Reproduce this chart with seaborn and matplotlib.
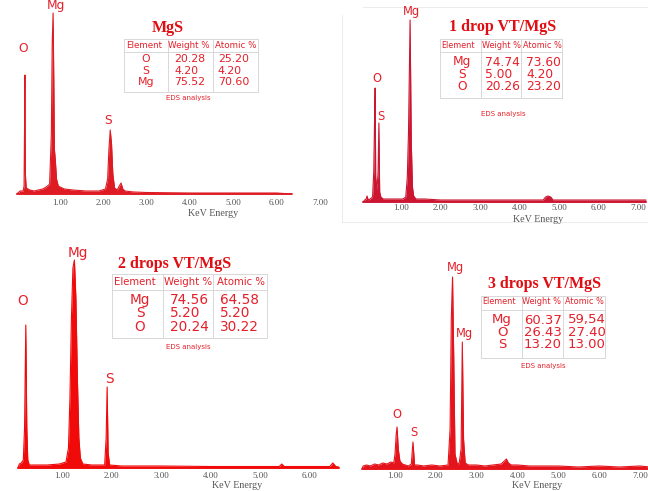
import matplotlib
matplotlib.use("Agg")
import matplotlib.pyplot as plt
from matplotlib.lines import Line2D
import pandas as pd
import seaborn as sns

# ---------------- spectra (energy in keV, intensity in counts) ----------------
mgs_energy = [0.00, 0.08, 0.15, 0.17, 0.180, 0.190, 0.20, 0.22, 0.30, 0.40, 0.50, 0.60,
              0.68, 0.74, 0.76, 0.78, 0.80, 0.82, 0.84, 0.86, 0.87, 0.89, 0.92, 0.96,
              1.00, 1.10, 1.30, 1.60, 1.90, 2.05, 2.10, 2.13, 2.16, 2.19, 2.22, 2.26,
              2.32, 2.37, 2.41, 2.45, 2.50, 2.70, 3.00, 4.00, 5.00, 6.00, 6.35]
mgs_counts = [0, 3, 3, 8, 60, 119, 20, 6, 4, 3, 4, 5,
              7, 9, 10, 35, 60, 150, 181, 100, 45, 35, 15, 8,
              7, 5, 4, 3, 3, 5, 15, 45, 64, 50, 20, 6,
              4, 8, 11, 5, 3, 2, 1.5, 1, 1, 1, 0]

drop1_energy = [0.04, 0.08, 0.12, 0.14, 0.17, 0.22, 0.28, 0.31, 0.33, 0.345, 0.36, 0.39,
                0.42, 0.44, 0.46, 0.49, 0.55, 0.70, 0.90, 1.05, 1.12, 1.16, 1.19, 1.23,
                1.26, 1.29, 1.32, 1.38, 1.60, 2.00, 3.00, 4.00, 4.60, 4.66, 4.72, 4.79,
                4.85, 5.50, 6.50, 7.20]
drop1_counts = [0, 2, 3, 6, 2, 3, 5, 30, 80, 114, 25, 12,
                30, 79, 10, 5, 3, 3, 3, 3, 5, 25, 70, 182,
                60, 15, 6, 3, 3, 2, 2, 2, 2, 5, 6, 5,
                2, 2, 2, 2]

drop2_energy = [0.11, 0.14, 0.18, 0.22, 0.245, 0.27, 0.29, 0.31, 0.34, 0.45, 0.70, 0.95,
                1.08, 1.13, 1.16, 1.19, 1.22, 1.25, 1.28, 1.31, 1.34, 1.37, 1.42, 1.60,
                1.86, 1.89, 1.91, 1.93, 1.96, 2.20, 3.00, 4.00, 5.00, 5.38, 5.43, 5.48,
                6.00, 6.40, 6.46, 6.52, 6.58]
drop2_counts = [0, 4, 5, 8, 40, 143, 40, 8, 3, 3, 3, 4,
                6, 20, 70, 150, 200, 208, 170, 90, 30, 10, 4, 3,
                3, 30, 81, 15, 3, 2, 2, 1.5, 1.5, 1.5, 4, 1.5,
                1.5, 1.5, 5, 1.5, 1]

drop3_energy = [0.19, 0.22, 0.30, 0.40, 0.50, 0.60, 0.70, 0.80, 0.90, 0.97, 1.00, 1.03,
                1.05, 1.08, 1.12, 1.18, 1.25, 1.33, 1.40, 1.44, 1.48, 1.55, 1.70, 1.90,
                2.10, 2.30, 2.35, 2.38, 2.41, 2.44, 2.47, 2.52, 2.57, 2.62, 2.65, 2.68,
                2.72, 2.80, 3.00, 3.20, 3.40, 3.60, 3.68, 3.73, 3.78, 3.85, 4.00, 4.30,
                4.60, 5.00, 5.50, 6.00, 6.50, 7.00, 7.25]
drop3_counts = [0, 3, 4, 3, 5, 4, 6, 5, 7, 6, 15, 35,
                42, 20, 8, 5, 4, 3, 5, 27, 4, 4, 3, 4,
                3, 4, 40, 150, 192, 110, 15, 6, 5, 20, 127, 30,
                6, 4, 4, 3, 4, 5, 8, 10, 6, 4, 4, 3,
                3, 3, 2, 3, 2, 3, 2]

# ---------------- EDS composition tables ----------------
table_headers = ["Element", "Weight %", "Atomic %"]

mgs_elements = ["O", "S", "Mg"]
mgs_weight = [20.28, 4.20, 75.52]
mgs_atomic = [25.20, 4.20, 70.60]

drop1_elements = ["Mg", "S", "O"]
drop1_weight = [74.74, 5.00, 20.26]
drop1_atomic = [73.60, 4.20, 23.20]

drop2_elements = ["Mg", "S", "O"]
drop2_weight = [74.56, 5.20, 20.24]
drop2_atomic = [64.58, 5.20, 30.22]

drop3_elements = ["Mg", "O", "S"]
drop3_weight = [60.37, 26.43, 13.20]
drop3_atomic_text = ["59,54", "27.40", "13.00"]

energy_ticks_7 = [1, 2, 3, 4, 5, 6, 7]
energy_ticks_6 = [1, 2, 3, 4, 5, 6]

# ---------------- figure helpers ----------------
sns.set_theme(style="white")
plt.rcParams["font.family"] = ["DejaVu Sans"]

FIG_W, FIG_H = 648, 491
fig = plt.figure(figsize=(FIG_W / 100, FIG_H / 100), dpi=100)
fig.patch.set_facecolor("white")

TXT_RED = "#e4202a"
TITLE_RED = "#e00d12"
TICK_GREY = "#555555"


def fx(px):
    return px / FIG_W


def fy(py):
    return 1 - py / FIG_H


def ptext(x, y, s, **kw):
    fig.text(fx(x), fy(y), s, **kw)


def pline(x0, y0, x1, y1, color="#d8d8d8", lw=0.7):
    fig.add_artist(Line2D([fx(x0), fx(x1)], [fy(y0), fy(y1)],
                          transform=fig.transFigure, color=color, lw=lw))


def spectrum_panel(energy, counts, color, p1, ppk, base, left, right, top,
                   ticks, tick_pad, xlabel_xy):
    """p1: pixel column of the 1.00 keV label, ppk: pixels per keV,
    base: pixel row of the zero-count baseline."""
    below = 1.5
    ax = fig.add_axes([fx(left), fy(base + below),
                       (right - left) / FIG_W, (base + below - top) / FIG_H])
    ax.set_xlim(1 + (left - p1) / ppk, 1 + (right - p1) / ppk)
    ax.set_ylim(-below, base - top)
    df = pd.DataFrame({"energy": energy, "counts": counts})
    ax.fill_between(df["energy"], df["counts"], 0, color=color, lw=0)
    sns.lineplot(data=df, x="energy", y="counts", ax=ax, color=color, lw=0.8,
                 estimator=None, errorbar=None)
    ax.plot([energy[0], energy[-1]], [0, 0], color=color, lw=1.3)
    ax.set_xticks(ticks)
    ax.set_xticklabels([f"{t:.2f}" for t in ticks], family="Liberation Serif",
                       fontsize=6.5, color=TICK_GREY)
    ax.tick_params(axis="x", length=0, pad=tick_pad)
    ax.set_yticks([])
    ax.set_xlabel("")
    ax.set_ylabel("")
    for s in ax.spines.values():
        s.set_visible(False)
    ax.patch.set_alpha(0)
    ptext(*xlabel_xy, "KeV Energy", family="Liberation Serif", fontsize=7.2,
          color=TICK_GREY, ha="center", va="center")
    return ax


def eds_table(title, title_xy, box, header_line_y, col_lines, header_y, header_x,
              elem_x, weight_x, atomic_x, rows_y, elements, weights, atomics,
              value_size, header_size, caption_xy):
    ptext(*title_xy, title, family="Liberation Serif", fontweight="bold",
          fontsize=11.5, color=TITLE_RED, ha="center", va="center")
    x0, y0, x1, y1 = box
    pline(x0, y0, x1, y0)
    pline(x0, y1, x1, y1)
    pline(x0, y0, x0, y1)
    pline(x1, y0, x1, y1)
    pline(x0, header_line_y, x1, header_line_y)
    for cx in col_lines:
        pline(cx, y0, cx, y1)
    for hx, h in zip(header_x, table_headers):
        ptext(hx, header_y, h, fontsize=header_size, color=TXT_RED,
              ha="center", va="center")
    for ry, el, w, a in zip(rows_y, elements, weights, atomics):
        ptext(elem_x, ry, el, fontsize=value_size, color=TXT_RED, ha="center", va="center")
        ptext(weight_x, ry, f"{w:.2f}", fontsize=value_size, color=TXT_RED,
              ha="left", va="center")
        a_txt = a if isinstance(a, str) else f"{a:.2f}"
        ptext(atomic_x, ry, a_txt, fontsize=value_size, color=TXT_RED,
              ha="left", va="center")
    ptext(*caption_xy, "EDS analysis", fontsize=5, color=TXT_RED, ha="center", va="center")


def peak_labels(items, size, color=TXT_RED):
    for x, y, s in items:
        ptext(x, y, s, fontsize=size, color=color, ha="center", va="center")


# ---------------- MgS ----------------
spectrum_panel(mgs_energy, mgs_counts, "#de1a22", p1=60, ppk=43.3, base=194,
               left=15, right=328, top=0, ticks=energy_ticks_7, tick_pad=2.2,
               xlabel_xy=(213, 213))
peak_labels([(23, 49, "O"), (56, 6, "Mg"), (108, 120, "S")], 8.8)
eds_table("MgS", (168, 28), (124, 39, 258, 92), 52, [168, 213], 45, [144, 189, 236],
          146, 174, 218, [59, 70.5, 82], mgs_elements, mgs_weight, mgs_atomic,
          7.9, 6.3, (188, 98))

# ---------------- 1 drop VT/MgS ----------------
pline(363, 7, 648, 7, color="#ececec")
pline(342, 15, 342, 222, color="#ececec")
pline(342, 222, 648, 222, color="#ececec")
spectrum_panel(drop1_energy, drop1_counts, "#cc1530", p1=401, ppk=39.5, base=202,
               left=345, right=648, top=0, ticks=energy_ticks_7, tick_pad=0.6,
               xlabel_xy=(538, 219))
peak_labels([(411, 12, "Mg"), (377, 79, "O"), (381, 117, "S")], 8.3)
eds_table("1 drop VT/MgS", (503, 27), (440, 39, 562, 98), 52, [481, 521], 45,
          [458, 501, 542], 462, 485, 526, [62, 74, 87], drop1_elements,
          drop1_weight, drop1_atomic, 8.8, 5.9, (503, 114))

# ---------------- 2 drops VT/MgS ----------------
spectrum_panel(drop2_energy, drop2_counts, "#f00a0a", p1=62, ppk=49.6, base=468,
               left=15, right=340, top=240, ticks=energy_ticks_6, tick_pad=1.5,
               xlabel_xy=(237, 485))
peak_labels([(78, 253, "Mg"), (23, 301, "O"), (109, 379, "S")], 9.8)
eds_table("2 drops VT/MgS", (175, 264), (112, 274, 267, 338), 290, [163, 213], 282,
          [135, 188, 241], 140, 170, 220, [300, 313, 327], drop2_elements,
          drop2_weight, drop2_atomic, 9.8, 7.3, (188, 347))

# ---------------- 3 drops VT/MgS ----------------
spectrum_panel(drop3_energy, drop3_counts, "#e5141c", p1=395, ppk=40.8, base=469,
               left=355, right=648, top=240, ticks=energy_ticks_7, tick_pad=1.0,
               xlabel_xy=(537, 485))
peak_labels([(455, 268, "Mg"), (464, 334, "Mg"), (397, 414, "O"), (414, 433, "S")], 8.3)
eds_table("3 drops VT/MgS", (545, 284), (481, 296, 605, 358), 310, [522, 563], 302,
          [499, 542, 584], 502, 524, 568, [320, 332, 345], drop3_elements,
          drop3_weight, drop3_atomic_text, 9.5, 5.9, (543, 366))

fig.savefig("out.png", dpi=100, facecolor="white")
